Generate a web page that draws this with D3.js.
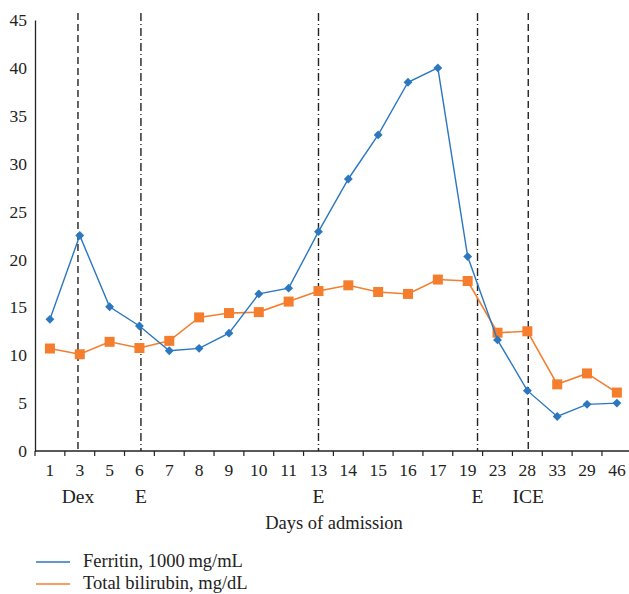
<!doctype html>
<html lang="en">
<head>
<meta charset="UTF-8">
<title>Ferritin and bilirubin</title>
<script src="https://d3js.org/d3.v7.min.js"></script>
<style>
  body { margin: 0; background: #fff; }
  text { font-family: "Liberation Serif", "DejaVu Serif", serif; fill: #222; }
</style>
</head>
<body>
<div id="chart"></div>
<script>
// categories (days of admission, in the order shown)
var days = ["1","3","5","6","7","8","9","10","11","13","14","15","16","17","19","23","28","33","29","46"];
var ferritin = [13.75,22.5,15.06,13.05,10.47,10.72,12.3,16.4,17.0,22.9,28.4,33.0,38.5,40.0,20.3,11.6,6.3,3.6,4.87,5.0];
var bilirubin = [10.7,10.1,11.4,10.75,11.5,13.95,14.4,14.5,15.6,16.7,17.3,16.6,16.4,17.9,17.75,12.35,12.5,6.96,8.1,6.1];
var yTicks = [0,5,10,15,20,25,30,35,40,45];
// treatment events: label, position in category units, line type
var eventLabels = ["Dex","E","E","E","ICE"];
var eventPos = [0.94,3.05,9.0,14.33,16.03];
var eventStyle = ["dash","dashdot","dashdot","dashdot","dash"];

var width = 629, height = 594;
var marginLeft = 35, plotTop = 20, plotBottom = 451;
var band = 29.84;

var svg = d3.select("#chart").append("svg")
  .attr("width", width)
  .attr("height", height);

var xScale = d3.scaleBand()
  .domain(days)
  .range([marginLeft, marginLeft + band * days.length]);

var yScale = d3.scaleLinear()
  .domain([0,45])
  .range([plotBottom, plotTop]);

// index -> pixel, for events between categories
var xIdx = d3.scaleLinear()
  .domain([0, days.length - 1])
  .range([xScale(days[0]) + xScale.bandwidth()/2, xScale(days[days.length-1]) + xScale.bandwidth()/2]);

// y axis
var yAxis = d3.axisLeft(yScale).tickValues(yTicks).tickSize(0).tickPadding(8);
var gy = svg.append("g")
  .attr("transform","translate(" + marginLeft + ",0)")
  .call(yAxis);
gy.select(".domain").attr("stroke","#222").attr("stroke-width",1.3);
gy.selectAll("text").style("font-size","17.5px").attr("fill","#222");

// x axis, ticks on band edges
var gx = svg.append("g")
  .attr("transform","translate(0," + plotBottom + ")");
gx.append("line")
  .attr("x1", marginLeft).attr("x2", width)
  .attr("stroke","#222").attr("stroke-width",1.3);
gx.selectAll(".tk")
  .data(days)
  .enter().append("line")
  .attr("x1", function(d){ return xScale(d); })
  .attr("x2", function(d){ return xScale(d); })
  .attr("y1",0).attr("y2",5)
  .attr("stroke","#222").attr("stroke-width",1.2);
gx.selectAll(".lbl")
  .data(days)
  .enter().append("text")
  .attr("x", function(d){ return xScale(d) + xScale.bandwidth()/2; })
  .attr("y", 25)
  .attr("text-anchor","middle")
  .style("font-size","17.5px")
  .text(function(d){ return d; });

// event lines
svg.selectAll(".ev")
  .data(eventPos)
  .enter().append("line")
  .attr("x1", function(d){ return xIdx(d); })
  .attr("x2", function(d){ return xIdx(d); })
  .attr("y1", 13).attr("y2", plotBottom)
  .attr("stroke","#222")
  .attr("stroke-width",1.4)
  .attr("stroke-dasharray", function(d,i){ return eventStyle[i] == "dash" ? "7,4" : "8,3,1,3"; });

svg.selectAll(".evl")
  .data(eventLabels)
  .enter().append("text")
  .attr("x", function(d,i){ return xIdx(eventPos[i]); })
  .attr("y", 503)
  .attr("text-anchor","middle")
  .style("font-size","19.5px")
  .text(function(d){ return d; });

svg.append("text")
  .attr("x", 334).attr("y", 529)
  .attr("text-anchor","middle")
  .style("font-size","18.5px")
  .text("Days of admission");

var cx = function(d,i){ return xScale(days[i]) + xScale.bandwidth()/2; };

var line = d3.line()
  .x(cx)
  .y(function(d){ return yScale(d); });

var blue = "#2b77c0", orange = "#f47e2e";

svg.append("path").datum(bilirubin)
  .attr("d", line).attr("fill","none").attr("stroke",orange).attr("stroke-width",1.6);
svg.selectAll(".sq")
  .data(bilirubin)
  .enter().append("rect")
  .attr("x", function(d,i){ return cx(d,i) - 5; })
  .attr("y", function(d){ return yScale(d) - 5; })
  .attr("width",10).attr("height",10)
  .attr("fill",orange);

svg.append("path").datum(ferritin)
  .attr("d", line).attr("fill","none").attr("stroke",blue).attr("stroke-width",1.4);
svg.selectAll(".dm")
  .data(ferritin)
  .enter().append("path")
  .attr("d", d3.symbol().type(d3.symbolDiamond2).size(50))
  .attr("transform", function(d,i){ return "translate(" + cx(d,i) + "," + yScale(d) + ")"; })
  .attr("fill",blue);

// legend
var legNames = ["Ferritin, 1000\u2009mg/mL","Total bilirubin, mg/dL"];
var legColors = [blue, orange];
var leg = svg.selectAll(".leg")
  .data(legNames)
  .enter().append("g")
  .attr("transform", function(d,i){ return "translate(36," + (562 + i*22) + ")"; });
leg.append("line")
  .attr("x1",0).attr("x2",34)
  .attr("stroke", function(d,i){ return legColors[i]; })
  .attr("stroke-width",1.5);
leg.append("text")
  .attr("x",47).attr("y",5)
  .style("font-size","18.5px")
  .text(function(d){ return d; });
</script>
</body>
</html>
